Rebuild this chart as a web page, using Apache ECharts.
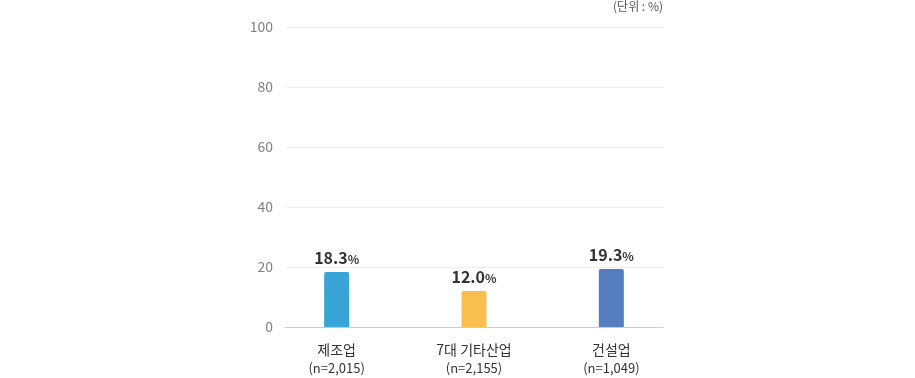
<!DOCTYPE html>
<html>
<head>
<meta charset="utf-8">
<script src="https://cdn.jsdelivr.net/npm/echarts@6/dist/echarts.min.js"></script>
<style>
  html, body { margin: 0; padding: 0; background: #fff; }
  #chart { width: 915px; height: 378px; }
</style>
</head>
<body>
<div id="chart"></div>
<script>
const categories = ['제조업', '7대 기타산업', '건설업'];
const sampleSizes = ['(n=2,015)', '(n=2,155)', '(n=1,049)'];
const values = [18.3, 12.0, 19.3];
const colors = ['#38A4D8', '#F9BE4D', '#557DC2'];

const myChart = echarts.init(document.getElementById('chart'));
const font = 'Noto Sans CJK KR';

myChart.setOption({
  animation: false,
  textStyle: { fontFamily: font },
  graphic: [{
    type: 'text',
    right: 252,
    top: 0,
    style: { text: '(단위 : %)', fill: '#555', font: '12px "Noto Sans CJK KR"' }
  }],
  // grid 0: axis frame + gridlines, grid 1: bars (wider so categories spread out)
  grid: [
    { left: 285, right: 252, top: 27, bottom: 51, outerBoundsMode: 'none' },
    { left: 268, right: 235, top: 27, bottom: 51, outerBoundsMode: 'none' }
  ],
  xAxis: [{
    type: 'category',
    gridIndex: 0,
    data: categories,
    axisTick: { show: false },
    axisLabel: { show: false },
    axisLine: { lineStyle: { color: '#cccccc', width: 1 } }
  }, {
    type: 'category',
    gridIndex: 1,
    data: categories,
    axisTick: { show: false },
    axisLine: { show: false },
    axisLabel: {
      margin: 13,
      formatter: (v, i) => `{a|${v}}\n{b|${sampleSizes[i]}}`,
      rich: {
        a: { color: '#333', fontSize: 14, lineHeight: 19, fontFamily: font },
        b: { color: '#333', fontSize: 13, lineHeight: 19, fontFamily: font }
      }
    }
  }],
  yAxis: [{
    type: 'value',
    gridIndex: 0,
    min: 0,
    max: 100,
    interval: 20,
    axisLine: { show: false },
    axisTick: { show: false },
    axisLabel: { color: '#808080', fontSize: 14, margin: 12, fontFamily: font },
    splitLine: { lineStyle: { color: '#eeeeee' } }
  }, {
    type: 'value',
    gridIndex: 1,
    min: 0,
    max: 100,
    interval: 20,
    show: false,
    splitLine: { show: false }
  }],
  series: [{
    type: 'bar',
    xAxisIndex: 1,
    yAxisIndex: 1,
    barWidth: 25,
    data: values.map((v, i) => ({
      value: v,
      itemStyle: { color: colors[i], borderRadius: [2, 2, 0, 0] }
    })),
    label: {
      show: true,
      position: 'top',
      distance: 6,
      formatter: (p) => `{v|${p.value.toFixed(1)}}{u|%}`,
      rich: {
        v: { fontSize: 16, fontWeight: 'bold', color: '#333', fontFamily: font },
        u: { fontSize: 12, fontWeight: 'bold', color: '#333', fontFamily: font, padding: [3, 0, 0, 0] }
      }
    }
  }]
});
</script>
</body>
</html>
